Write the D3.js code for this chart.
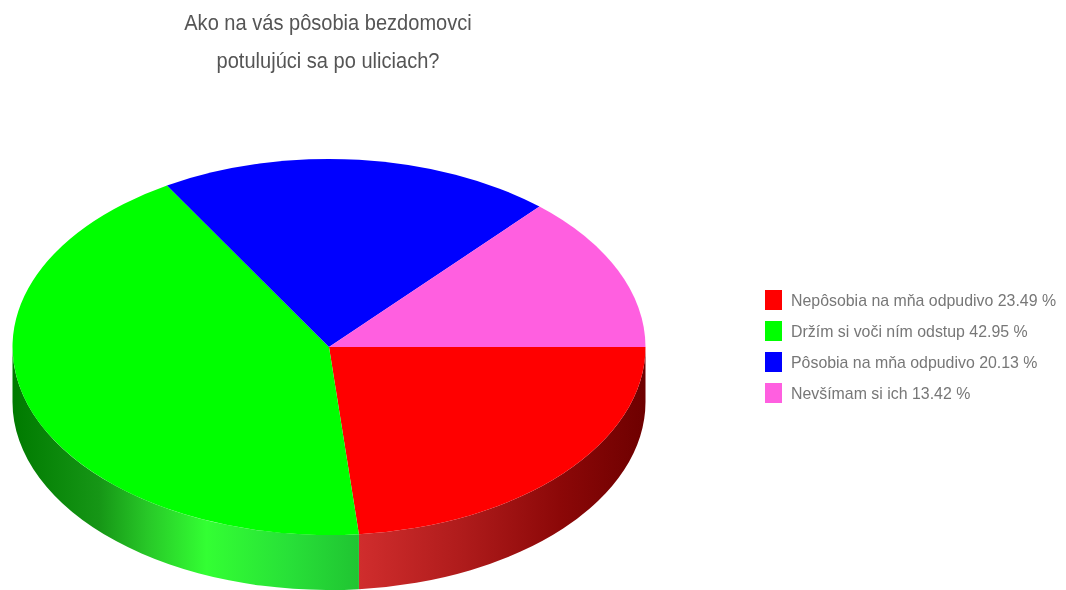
<!DOCTYPE html>
<html>
<head>
<meta charset="utf-8">
<title>Ako na vás pôsobia bezdomovci</title>
<script src="https://cdn.jsdelivr.net/npm/d3@7"></script>
<style>
  html, body { margin: 0; padding: 0; background: #fff; overflow: hidden; }
  svg { display: block; font-family: "Liberation Sans", Arial, sans-serif; }
  .soft { filter: blur(0.5px); }
</style>
</head>
<body>
<div id="chart"></div>
<script>
const titleLines = ["Ako na vás pôsobia bezdomovci", "potulujúci sa po uliciach?"];
const categories = ["Nepôsobia na mňa odpudivo", "Držím si voči ním odstup", "Pôsobia na mňa odpudivo", "Nevšímam si ich"];
const values = [23.49, 42.95, 20.13, 13.42];
const colors = ["#ff0000", "#00ff00", "#0000ff", "#ff5fe0"];

// wall shading, left to right, one list per slice that shows a wall
const wallShades = [
  [[0, "#d02d2d"], [0.35, "#b01c1c"], [0.7, "#8c0808"], [1, "#6e0000"]],
  [[0, "#007a00"], [0.25, "#169616"], [0.39, "#28c828"], [0.56, "#33ff33"], [0.8, "#28e038"], [1, "#20c432"]],
  [[0, "#000080"], [1, "#000080"]],
  [[0, "#a03a8c"], [1, "#a03a8c"]]
];

const width = 1066, height = 590;
const cx = 329, cy = 347, rx = 316.5, ry = 188, depth = 55;

const svg = d3.select("#chart").append("svg")
  .attr("width", width)
  .attr("height", height);

const defs = svg.append("defs");

const pie = d3.pie().sort(null).value(d => d)
  .startAngle(Math.PI / 2)
  .endAngle(Math.PI * 2.5);
const slices = pie(values);

// d3 angles run clockwise from 12 o'clock
const px = a => cx + rx * Math.sin(a);
const py = a => cy - ry * Math.cos(a);

function wallPath(a0, a1) {
  return `M${px(a0)},${py(a0)}`
    + `A${rx},${ry} 0 0 1 ${px(a1)},${py(a1)}`
    + `L${px(a1)},${py(a1) + depth}`
    + `A${rx},${ry} 0 0 0 ${px(a0)},${py(a0) + depth}Z`;
}

// front wall
slices.forEach((s, i) => {
  const a0 = Math.max(s.startAngle, Math.PI / 2);
  const a1 = Math.min(s.endAngle, Math.PI * 1.5);
  if (a0 >= a1) return;
  const xa = Math.min(px(a0), px(a1));
  const xb = Math.max(px(a0), px(a1));
  const grad = defs.append("linearGradient")
    .attr("id", "wall" + i)
    .attr("gradientUnits", "userSpaceOnUse")
    .attr("x1", xa).attr("x2", xb)
    .attr("y1", 0).attr("y2", 0);
  wallShades[i].forEach(st => {
    grad.append("stop").attr("offset", st[0]).attr("stop-color", st[1]);
  });
  svg.append("path")
    .attr("d", wallPath(a0, a1))
    .attr("fill", `url(#wall${i})`);
});

// top face, a circle squashed to an ellipse
const arc = d3.arc().innerRadius(0).outerRadius(rx);
svg.append("g")
  .attr("transform", `translate(${cx},${cy}) scale(1,${ry / rx})`)
  .selectAll("path")
  .data(slices)
  .join("path")
  .attr("d", arc)
  .attr("fill", (d, i) => colors[i]);

// title, the glyphs in the original are a bit narrow
svg.append("g").attr("class", "soft")
  .selectAll("text")
  .data(titleLines)
  .join("text")
  .attr("transform", (d, i) => `translate(328,${30 + i * 38}) scale(0.92,1)`)
  .attr("text-anchor", "middle")
  .attr("font-size", 21.8)
  .attr("fill", "#555")
  .text(d => d);

// legend
const rowY = d3.scalePoint().domain(d3.range(categories.length)).range([300, 393]);
const legend = svg.append("g").attr("class", "soft")
  .selectAll("g")
  .data(categories)
  .join("g")
  .attr("transform", (d, i) => `translate(765,${rowY(i)})`);

legend.append("rect")
  .attr("x", 0).attr("y", -10)
  .attr("width", 17).attr("height", 20)
  .attr("fill", (d, i) => colors[i]);

legend.append("text")
  .attr("x", 26).attr("y", 5.5)
  .attr("font-size", 15.9)
  .attr("fill", "#777")
  .text((d, i) => `${d} ${values[i].toFixed(2)} %`);
</script>
</body>
</html>
